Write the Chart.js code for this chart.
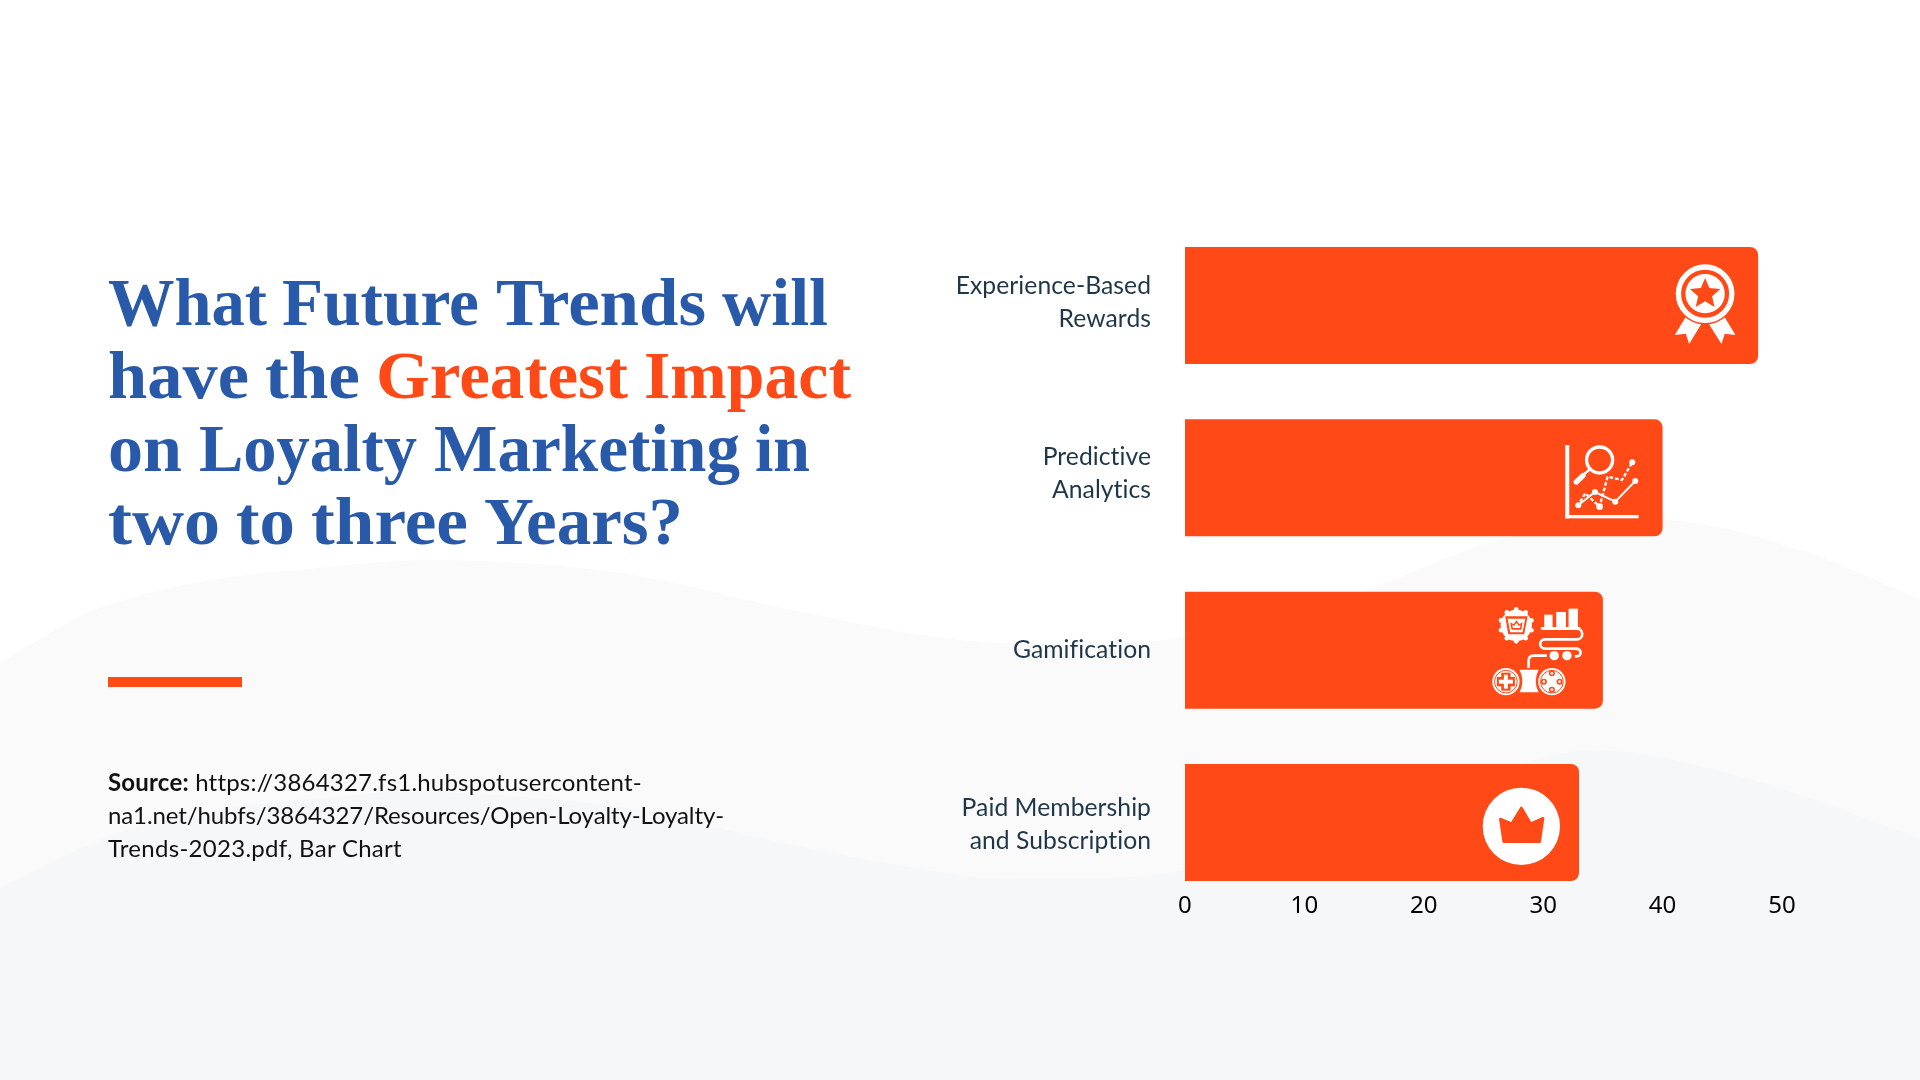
<!DOCTYPE html>
<html><head><meta charset="utf-8">
<script src="https://cdn.jsdelivr.net/npm/chart.js@4"></script>
<style>
html,body{margin:0;padding:0;width:1920px;height:1080px;overflow:hidden;background:#fff}
#wrap{position:relative;width:1920px;height:1080px}
canvas{position:absolute;left:0;top:0}
.t{position:absolute;left:0;white-space:nowrap;font:700 67px/73px "Liberation Serif",serif;color:#2959A9}
.t span{position:absolute;top:0;transform-origin:0 50%}
.t span.o{color:#FF4A17}
#rule{position:absolute;left:108px;top:677px;width:134px;height:10px;background:#FF4A17}
#src{position:absolute;left:108px;top:765px;font:400 24px/33px Lato,sans-serif;color:#111;white-space:nowrap}
#src div{width:max-content}
#src b{font-weight:700}
</style></head><body>
<div id="wrap">
<canvas id="c" width="1920" height="1080" style="width:1920px;height:1080px"></canvas>
<div class="t" style="top:266px"><span data-x="109" data-e="266">What</span> <span data-x="283" data-e="478">Future</span> <span data-x="497" data-e="705">Trends</span> <span data-x="723" data-e="827">will</span></div>
<div class="t" style="top:339px"><span data-x="109" data-e="248">have</span> <span data-x="266" data-e="359">the</span> <span class="o" data-x="377" data-e="627">Greatest</span> <span class="o" data-x="645" data-e="850">Impact</span></div>
<div class="t" style="top:412px"><span data-x="109" data-e="181">on</span> <span data-x="200" data-e="416">Loyalty</span> <span data-x="435" data-e="739">Marketing</span> <span data-x="756" data-e="809">in</span></div>
<div class="t" style="top:485px"><span data-x="109" data-e="219">two</span> <span data-x="237" data-e="294">to</span> <span data-x="312" data-e="467">three</span> <span data-x="485" data-e="682">Years?</span></div>
<div id="rule"></div>
<div id="src"><div data-w="533"><b>Source:</b> https://3864327.fs1.hubspotusercontent-</div><div data-w="616">na1.net/hubfs/3864327/Resources/Open-Loyalty-Loyalty-</div><div data-w="294">Trends-2023.pdf, Bar Chart</div></div>
</div>
<script>
const categories=[["Experience-Based","Rewards"],["Predictive","Analytics"],["Gamification"],["Paid Membership","and Subscription"]];
const values=[48,40,35,33];
const xTicks=[0,10,20,30,40,50];
const ORANGE="#FF4A17";

document.querySelectorAll('.t span').forEach(e=>{
  const w=e.getBoundingClientRect().width;
  e.style.left=(+e.dataset.x-1.5)+'px';
  e.style.transform='scaleX('+((+e.dataset.e-+e.dataset.x+2)/w)+')';
});
document.querySelectorAll('#src div').forEach(e=>{
  const w=e.getBoundingClientRect().width;
  e.style.letterSpacing=((+e.dataset.w-w)/e.textContent.length)+'px';
});

const waveA=[[0,663],[33,643],[100,608],[200,582],[300,570],[440,560],[620,573],[796,611],[960,640],[1120,643],[1240,628],[1364,591],[1511,537],[1664,520],[1800,550],[1920,600]];
const waveB=[[0,887],[67,855],[133,828],[233,807],[333,797],[433,792],[620,807],[796,846],[960,875],[1040,878],[1185,870],[1360,815],[1523,763],[1615,751],[1756,781],[1920,838]];
function wave(ctx,p,col){
  ctx.beginPath();ctx.moveTo(p[0][0],p[0][1]);
  for(let i=0;i<p.length-1;i++){
    const a=p[Math.max(i-1,0)],b=p[i],c=p[i+1],d=p[Math.min(i+2,p.length-1)];
    ctx.bezierCurveTo(b[0]+(c[0]-a[0])/6,b[1]+(c[1]-a[1])/6,c[0]-(d[0]-b[0])/6,c[1]-(d[1]-b[1])/6,c[0],c[1]);
  }
  ctx.lineTo(1920,1080);ctx.lineTo(0,1080);ctx.closePath();ctx.fillStyle=col;ctx.fill();
}
function star(ctx,cx,cy,R,r){
  ctx.beginPath();
  for(let i=0;i<10;i++){const q=-Math.PI/2+i*Math.PI/5,v=i%2?r:R;ctx.lineTo(cx+v*Math.cos(q),cy+v*Math.sin(q));}
  ctx.closePath();ctx.fill();
}
function circ(ctx,x,y,r){ctx.beginPath();ctx.arc(x,y,r,0,7);ctx.fill();}
function ring(ctx,x,y,r,w){ctx.beginPath();ctx.arc(x,y,r,0,7);ctx.lineWidth=w;ctx.stroke();}
function poly(ctx,p){ctx.beginPath();p.forEach(q=>ctx.lineTo(q[0],q[1]));ctx.closePath();ctx.fill();}
function line(ctx,p,w){ctx.beginPath();p.forEach(q=>ctx.lineTo(q[0],q[1]));ctx.lineWidth=w;ctx.stroke();}

const icons=[
 {ox:1075,oy:50,draw(c){
   poly(c,[[860,256],[825,314],[858,310],[868,341],[906,279],[926,279],[965,341],[975,310],[1007,314],[972,256]]);
   c.fillStyle=ORANGE;circ(c,916,190,93);c.fillStyle="#fff";
   ring(c,916,190,80,16);circ(c,916,190,59);
   c.fillStyle=ORANGE;star(c,916,191,48,22);
 }},
 {ox:787,oy:568,draw(c){
   c.fillRect(495,645,12,220);c.fillRect(495,855,220,10);
   ring(c,598,690,39,10);
   c.lineCap="butt";line(c,[[570,717],[545,738]],7);
   c.lineCap="round";line(c,[[528,756],[548,737]],16);c.lineCap="butt";
   line(c,[[534,826],[584,786],[645,815],[705,753]],6);
   [[534,826],[584,786],[645,815],[705,753]].forEach(q=>circ(c,q[0],q[1],9));
   c.setLineDash([11,6]);
   line(c,[[540,815],[555,790],[598,830],[622,740],[665,750],[696,697]],7);
   c.setLineDash([]);
   circ(c,598,830,10);circ(c,696,697,9);
 }},
 {ox:608,oy:36,draw(c){
   for(let i=0;i<10;i++){const q=i*Math.PI/5-Math.PI/2;circ(c,348+48*Math.cos(q),137+48*Math.sin(q),7);}
   circ(c,348,137,47);
   c.fillStyle=ORANGE;poly(c,[[315,110],[382,110],[372,164],[324,164]]);
   c.fillStyle="#fff";poly(c,[[322,117],[375,117],[367,158],[330,158]]);
   c.fillStyle=ORANGE;poly(c,[[330,128],[340,134],[349,122],[357,134],[367,128],[363,150],[334,150]]);
   c.fillStyle="#fff";poly(c,[[336,135],[342,139],[349,129],[355,139],[361,135],[359,145],[338,145]]);
   c.fillRect(432,105,25,40);c.fillRect(468,97,29,48);c.fillRect(505,87,28,58);c.fillRect(422,142,118,9);
   c.lineWidth=8;c.beginPath();
   c.moveTo(530,147);c.arc(530,163,16,-Math.PI/2,Math.PI/2);c.lineTo(434,179);
   c.arc(434,193,14,-Math.PI/2,-Math.PI*1.5,true);c.lineTo(530,207);
   c.arc(530,219,11,-Math.PI/2,Math.PI/2);c.lineTo(524,230);c.stroke();
   circ(c,462,228,14);circ(c,500,228,14);
   c.beginPath();c.moveTo(440,228);c.lineTo(400,228);c.quadraticCurveTo(385,228,385,245);c.lineTo(385,265);c.stroke();
   c.beginPath();c.moveTo(358,270);c.lineTo(415,270);c.quadraticCurveTo(398,304,415,338);c.lineTo(358,338);c.quadraticCurveTo(375,304,358,270);c.fill();
   circ(c,317,306,41);circ(c,455,306,41);
   c.strokeStyle=ORANGE;ring(c,317,306,34,3);ring(c,455,306,34,3);
   c.fillStyle=ORANGE;c.fillRect(303,279,28,54);c.fillRect(290,292,54,28);
   c.fillStyle="#fff";c.fillRect(311,285,12,42);c.fillRect(296,300,42,12);
   [[455,281],[431,306],[478,306],[455,330]].forEach(q=>{c.fillStyle=ORANGE;circ(c,q[0],q[1],9);c.fillStyle="#fff";circ(c,q[0],q[1],4);});
 }},
 {ox:537,oy:552,draw(c){
   circ(c,364,739,116);
   c.fillStyle=ORANGE;c.strokeStyle=ORANGE;c.lineJoin="round";c.lineWidth=8;
   const p=[[301,717],[335,731],[364,684],[392,731],[429,715],[419,785],[311,785]];
   c.beginPath();p.forEach(q=>c.lineTo(q[0],q[1]));c.closePath();c.fill();c.stroke();
 }}
];

const labelNudge=[-3,-4,0,2];
const decor={id:'decor',
 beforeDraw(ch){
  const c=ch.ctx;c.save();wave(c,waveA,'#FAFAFB');wave(c,waveB,'#F6F7F9');c.restore();
  c.letterSpacing='0.05px';
  if(!ch.$nudged){ch.$nudged=true;ch.scales.y.getLabelItems().forEach((it,i)=>{it.options.translation[1]+=labelNudge[i];});}
 },
 afterDatasetsDraw(ch){
  const c=ch.ctx,m=ch.getDatasetMeta(0);
  icons.forEach((ic,i)=>{
    const b=m.data[i];
    c.save();
    c.translate(b.x,b.y-b.height/2);c.scale(1/3,1/3);c.translate(-ic.ox,-ic.oy);
    c.fillStyle="#fff";c.strokeStyle="#fff";
    ic.draw(c);
    c.restore();
  });
 }};

new Chart(document.getElementById('c'),{
 type:'bar',
 data:{labels:categories,datasets:[{data:values,backgroundColor:ORANGE,borderWidth:0,
   borderRadius:{topRight:8,bottomRight:8,topLeft:0,bottomLeft:0},borderSkipped:false,
   barPercentage:0.679,categoryPercentage:1}]},
 plugins:[decor],
 options:{indexAxis:'y',responsive:false,devicePixelRatio:1,animation:false,
  layout:{padding:{left:0,right:138,top:219.33,bottom:0}},
  plugins:{legend:{display:false},tooltip:{enabled:false},title:{display:false}},
  scales:{
   x:{type:'linear',min:xTicks[0],max:xTicks[xTicks.length-1],
      afterBuildTicks(s){s.ticks=xTicks.map(v=>({value:v}));},
      afterFit(s){s.height=171.33;},
      grid:{display:false,drawTicks:false},border:{display:false},
      ticks:{mirror:true,padding:-12,maxRotation:0,autoSkip:false,color:'#000',font:{family:'"Noto Sans"',size:24}}},
   y:{type:'category',afterFit(s){s.width=1185;},
      grid:{display:false,drawTicks:false},border:{display:false},
      ticks:{padding:34,autoSkip:false,color:'#1F3648',font:{family:'Lato',size:24.7,lineHeight:1.34}}}
  }}
});
</script>
</body></html>
